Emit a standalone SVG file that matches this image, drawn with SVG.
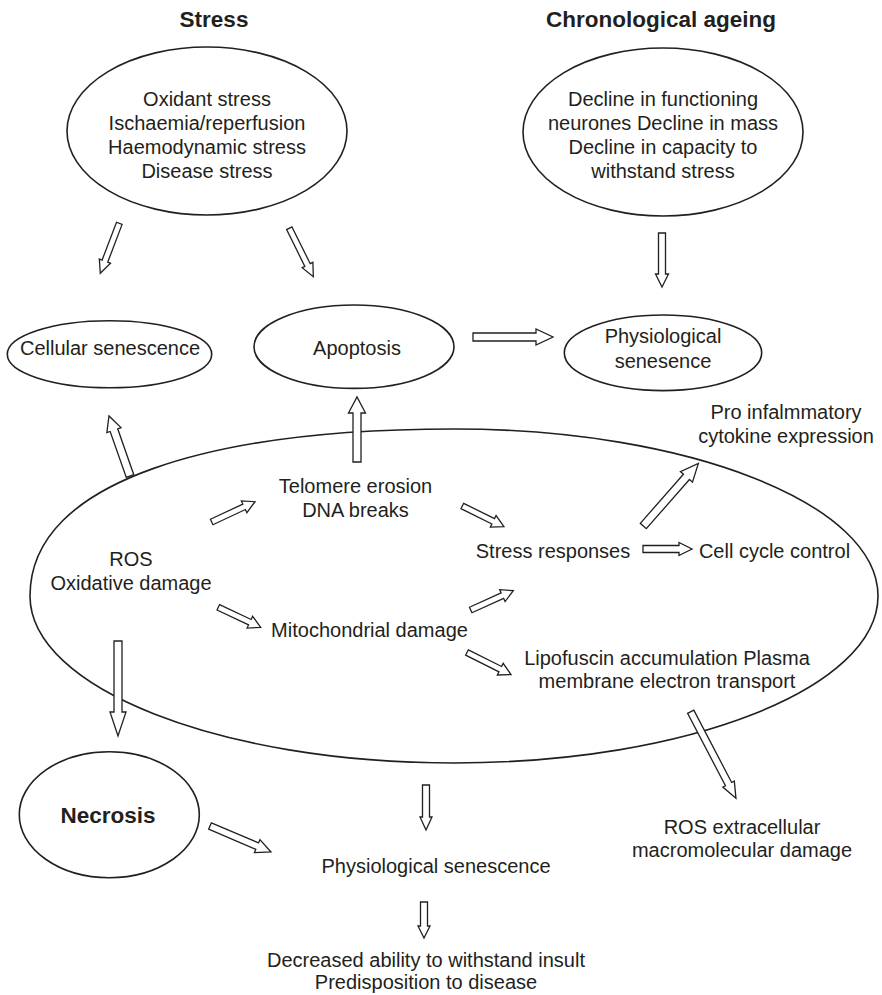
<svg xmlns="http://www.w3.org/2000/svg" width="882" height="995" viewBox="0 0 882 995">
  <style>
    .bg { fill: #ffffff; }
    .node { fill: none; stroke: #231f20; stroke-width: 1.6; }
    .arrow { fill: #ffffff; stroke: #231f20; stroke-width: 1.3; stroke-linejoin: miter; }
    text { font-family: "Liberation Sans", Arial, Helvetica, sans-serif; fill: #231f20; font-size: 20px; text-anchor: middle; }
    .title { font-weight: bold; font-size: 22.5px; }
    .start { text-anchor: start; }
  </style>

  <rect class="bg" x="0" y="0" width="882" height="995"/>

  <!-- column headings -->
  <g id="heading-stress"><text class="title" x="214" y="27">Stress</text></g>
  <g id="heading-ageing"><text class="title" x="661" y="27">Chronological ageing</text></g>

  <!-- stress sources -->
  <g id="stress-sources">
    <ellipse class="node" cx="207" cy="131" rx="140" ry="84"/>
    <text x="207" y="106">Oxidant stress</text>
    <text x="207" y="130">Ischaemia/reperfusion</text>
    <text x="207" y="154">Haemodynamic stress</text>
    <text x="207" y="178">Disease stress</text>
  </g>

  <!-- ageing changes -->
  <g id="ageing-changes">
    <ellipse class="node" cx="663" cy="132" rx="140" ry="84"/>
    <text x="663" y="106">Decline in functioning</text>
    <text x="663" y="130">neurones Decline in mass</text>
    <text x="663" y="154">Decline in capacity to</text>
    <text x="663" y="178">withstand stress</text>
  </g>

  <g id="cellular-senescence">
    <ellipse class="node" cx="109.5" cy="354.2" rx="102.2" ry="33.5"/>
    <text x="110" y="355">Cellular senescence</text>
  </g>

  <g id="apoptosis">
    <ellipse class="node" cx="354" cy="346.7" rx="100" ry="41.7"/>
    <text x="357" y="355">Apoptosis</text>
  </g>

  <g id="physiological-senesence">
    <ellipse class="node" cx="663" cy="352.8" rx="98.7" ry="37.8"/>
    <text x="663" y="343">Physiological</text>
    <text x="663" y="368">senesence</text>
  </g>

  <!-- large cell outline with oxidative damage pathways -->
  <g id="cell">
    <path class="node" d="M30,596 C30,479 216.6,429 454,429 C688,429 878,503.8 878,596 C878,688 688,763 454,763 C220,763 30,688 30,596 Z"/>
    <text x="131" y="565.5">ROS</text>
    <text x="131" y="589.5">Oxidative damage</text>
    <text x="355.5" y="493">Telomere erosion</text>
    <text x="355.5" y="517">DNA breaks</text>
    <text x="369.5" y="637">Mitochondrial damage</text>
    <text x="553" y="558">Stress responses</text>
    <text x="774.5" y="558">Cell cycle control</text>
    <text x="667" y="665">Lipofuscin accumulation Plasma</text>
    <text x="667" y="688">membrane electron transport</text>
  </g>

  <g id="pro-inflammatory">
    <text x="786" y="419">Pro infalmmatory</text>
    <text x="786" y="443">cytokine expression</text>
  </g>

  <g id="ros-extracellular">
    <text x="742" y="834">ROS extracellular</text>
    <text x="742" y="857">macromolecular damage</text>
  </g>

  <g id="necrosis">
    <ellipse class="node" cx="109.3" cy="814.7" rx="90" ry="63"/>
    <text class="title" x="108" y="823">Necrosis</text>
  </g>

  <g id="physiological-senescence">
    <text x="436" y="873">Physiological senescence</text>
  </g>

  <g id="outcome">
    <text x="426" y="967">Decreased ability to withstand insult</text>
    <text x="426" y="989">Predisposition to disease</text>
  </g>

  <!-- hollow block arrows: each drawn along +x from its base, then placed and turned -->
  <g id="connectors">
    <!-- stress -> cellular senescence -->
    <polygon class="arrow" transform="translate(119.3 223.3) rotate(110.8)" points="0,-3 40.5,-3 40.5,-6 53.5,0 40.5,6 40.5,3 0,3"/>
    <!-- stress -> apoptosis -->
    <polygon class="arrow" transform="translate(289.3 228.3) rotate(63.6)" points="0,-3 41,-3 41,-6 54,0 41,6 41,3 0,3"/>
    <!-- ageing -> physiological senesence -->
    <polygon class="arrow" transform="translate(662 233) rotate(90)" points="0,-3.5 41,-3.5 41,-6.5 54,0 41,6.5 41,3.5 0,3.5"/>
    <!-- apoptosis -> physiological senesence -->
    <polygon class="arrow" transform="translate(473 337) rotate(0)" points="0,-4 63,-4 63,-8 80,0 63,8 63,4 0,4"/>
    <!-- cell -> cellular senescence -->
    <polygon class="arrow" transform="translate(130 476) rotate(-109.3)" points="0,-4 48.6,-4 48.6,-7.5 63.6,0 48.6,7.5 48.6,4 0,4"/>
    <!-- telomere erosion -> apoptosis -->
    <polygon class="arrow" transform="translate(357 462) rotate(-90)" points="0,-4 49,-4 49,-8.5 65,0 49,8.5 49,4 0,4"/>
    <!-- ROS -> telomere erosion -->
    <polygon class="arrow" transform="translate(211.7 522) rotate(-25.1)" points="0,-3 35.8,-3 35.8,-6.5 47.8,0 35.8,6.5 35.8,3 0,3"/>
    <!-- ROS -> mitochondrial damage -->
    <polygon class="arrow" transform="translate(218.3 607.3) rotate(25.3)" points="0,-3 34.9,-3 34.9,-6.5 46.9,0 34.9,6.5 34.9,3 0,3"/>
    <!-- telomere erosion -> stress responses -->
    <polygon class="arrow" transform="translate(462.3 506) rotate(26.4)" points="0,-3 34.5,-3 34.5,-6.5 46.5,0 34.5,6.5 34.5,3 0,3"/>
    <!-- mitochondrial damage -> stress responses -->
    <polygon class="arrow" transform="translate(470.7 610) rotate(-24.4)" points="0,-3 34.8,-3 34.8,-6.5 46.8,0 34.8,6.5 34.8,3 0,3"/>
    <!-- stress responses -> cell cycle control -->
    <polygon class="arrow" transform="translate(643 549) rotate(0)" points="0,-3.5 36,-3.5 36,-6.5 49,0 36,6.5 36,3.5 0,3.5"/>
    <!-- stress responses -> pro inflammatory -->
    <polygon class="arrow" transform="translate(643.3 526) rotate(-48.7)" points="0,-4 65.4,-4 65.4,-8 83.4,0 65.4,8 65.4,4 0,4"/>
    <!-- mitochondrial damage -> lipofuscin -->
    <polygon class="arrow" transform="translate(467 652.5) rotate(26.6)" points="0,-3 37.2,-3 37.2,-6.5 49.2,0 37.2,6.5 37.2,3 0,3"/>
    <!-- lipofuscin -> ROS extracellular -->
    <polygon class="arrow" transform="translate(690.7 711.7) rotate(62.4)" points="0,-3.5 81.7,-3.5 81.7,-6.5 97.7,0 81.7,6.5 81.7,3.5 0,3.5"/>
    <!-- ROS -> necrosis -->
    <polygon class="arrow" transform="translate(118 641) rotate(90)" points="0,-4 71,-4 71,-8 95,0 71,8 71,4 0,4"/>
    <!-- necrosis -> physiological senescence -->
    <polygon class="arrow" transform="translate(210 826) rotate(23.1)" points="0,-3.5 51.3,-3.5 51.3,-7 66.3,0 51.3,7 51.3,3.5 0,3.5"/>
    <!-- cell -> physiological senescence -->
    <polygon class="arrow" transform="translate(426 785) rotate(90)" points="0,-3.5 32,-3.5 32,-6 45,0 32,6 32,3.5 0,3.5"/>
    <!-- physiological senescence -> outcome -->
    <polygon class="arrow" transform="translate(424 902) rotate(90)" points="0,-3.5 24,-3.5 24,-6 36,0 24,6 24,3.5 0,3.5"/>
  </g>
</svg>
